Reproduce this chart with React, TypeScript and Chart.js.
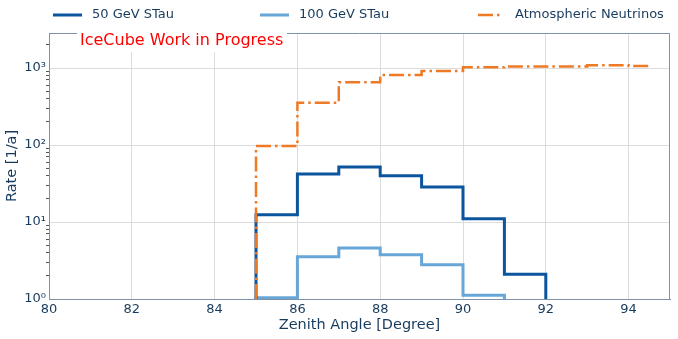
import React, { useEffect, useRef } from "react";
import { Chart, registerables } from "chart.js";

Chart.register(...registerables);

// ---- data ----
const binEdges = [85, 86, 87, 88, 89, 90, 91, 92, 93, 94, 94.5];
const stau50 = [12.4, 42, 52, 40, 28.5, 11, 2.1];
const stau100 = [1.04, 3.55, 4.6, 3.75, 2.78, 1.12];
const atmos = [97, 354, 655, 810, 915, 1020, 1050, 1050, 1090, 1060];
const xTicks = [80, 82, 84, 86, 88, 90, 92, 94];
const yMajor = [1, 10, 100, 1000];
const yMajorLabels = ["10\u2070", "10\u00b9", "10\u00b2", "10\u00b3"];
const seriesNames = ["50 GeV STau", "100 GeV STau", "Atmospheric Neutrinos"];
const annotation = "IceCube Work in Progress";

const X_MIN = 80;
const X_MAX = 95;
const Y_MIN = 1;
const Y_MAX = 2850;

const C50 = "#0b559f";
const C100 = "#67a6d6";
const CATM = "#ee7a26";
const TXT = "#173b5e";
const AXIS = "#7d93aa";
const GRID = "#dcdcdc";
const FONT = "'DejaVu Sans', sans-serif";
const DASHDOT = [15, 4, 2.5, 4];

function histPoints(values: number[], dropEnd: boolean) {
  const pts: { x: number; y: number }[] = [{ x: binEdges[0], y: Y_MIN }];
  values.forEach((v, i) => {
    pts.push({ x: binEdges[i], y: v });
    pts.push({ x: binEdges[i + 1], y: v });
  });
  if (dropEnd) pts.push({ x: binEdges[values.length], y: Y_MIN });
  return pts;
}

const decorPlugin = {
  id: "decor",
  afterDraw(chart: any) {
    const ctx = chart.ctx;
    const a = chart.chartArea;
    ctx.save();
    // frame top/right
    ctx.strokeStyle = AXIS;
    ctx.lineWidth = 1;
    ctx.beginPath();
    ctx.moveTo(a.left, a.top + 0.5);
    ctx.lineTo(a.right - 0.5, a.top + 0.5);
    ctx.lineTo(a.right - 0.5, a.bottom);
    ctx.stroke();

    // annotation box
    ctx.fillStyle = "#ffffff";
    ctx.fillRect(77, 28, 210, 24);
    ctx.fillStyle = "#ff0000";
    ctx.font = `16px ${FONT}`;
    ctx.textBaseline = "middle";
    ctx.textAlign = "left";
    ctx.fillText(annotation, 80, 41);

    // legend
    const entries = [
      { lx: 53, lw: 29, tx: 92, color: C50, dash: [] as number[], w: 3 },
      { lx: 260, lw: 29, tx: 299, color: C100, dash: [] as number[], w: 3 },
      { lx: 478, lw: 23.5, tx: 515, color: CATM, dash: DASHDOT, w: 2.5 },
    ];
    entries.forEach((e, i) => {
      ctx.strokeStyle = e.color;
      ctx.lineWidth = e.w;
      ctx.setLineDash(e.dash);
      ctx.beginPath();
      ctx.moveTo(e.lx, 15);
      ctx.lineTo(e.lx + e.lw, 15);
      ctx.stroke();
      ctx.setLineDash([]);
      ctx.fillStyle = TXT;
      ctx.font = `13px ${FONT}`;
      ctx.textBaseline = "middle";
      ctx.fillText(seriesNames[i], e.tx, 15);
    });
    ctx.restore();
  },
};

export default function App() {
  const ref = useRef<HTMLCanvasElement>(null);
  useEffect(() => {
    if (!ref.current) return;
    const chart = new Chart(ref.current, {
      type: "line",
      data: {
        datasets: [
          {
            label: seriesNames[2],
            data: histPoints(atmos, false),
            borderColor: CATM,
            borderWidth: 2.5,
            borderDash: DASHDOT,
            pointRadius: 0,
            fill: false,
            order: 0,
          },
          {
            label: seriesNames[0],
            data: histPoints(stau50, true),
            borderColor: C50,
            borderWidth: 3,
            pointRadius: 0,
            fill: false,
            order: 1,
          },
          {
            label: seriesNames[1],
            data: histPoints(stau100, true),
            borderColor: C100,
            borderWidth: 3,
            pointRadius: 0,
            fill: false,
            order: 2,
          },
        ],
      },
      options: {
        animation: false,
        responsive: true,
        maintainAspectRatio: false,
        layout: { padding: { top: 33, right: 8, left: 0, bottom: 0 } },
        plugins: {
          legend: { display: false },
          tooltip: { enabled: false },
        },
        scales: {
          x: {
            type: "linear",
            min: X_MIN,
            max: X_MAX,
            afterBuildTicks: (s: any) => {
              s.ticks = xTicks.map((v) => ({ value: v }));
            },
            afterFit: (s: any) => {
              s.height = 40;
            },
            grid: { color: GRID, drawTicks: false },
            border: { color: AXIS, width: 1 },
            ticks: {
              color: TXT,
              font: { family: FONT, size: 13 },
              padding: 3,
              maxRotation: 0,
              autoSkip: false,
              callback: (v: any) => String(v),
            },
            title: {
              display: true,
              text: "Zenith Angle [Degree]",
              color: TXT,
              font: { family: FONT, size: 14.5 },
              padding: { top: 0, bottom: 5 },
            },
          },
          y: {
            type: "logarithmic",
            min: Y_MIN,
            max: Y_MAX,
            afterBuildTicks: (s: any) => {
              const t: any[] = [];
              yMajor.forEach((m) => {
                for (let k = 1; k <= 9; k++) {
                  const v = m * k;
                  if (v <= Y_MAX) t.push({ value: v, major: k === 1 });
                }
              });
              s.ticks = t;
            },
            afterFit: (s: any) => {
              s.width = 49;
            },
            grid: {
              color: (c: any) =>
                c.tick && yMajor.includes(c.tick.value) ? GRID : "rgba(0,0,0,0)",
              tickColor: (c: any) =>
                c.tick && yMajor.includes(c.tick.value) ? "rgba(0,0,0,0)" : "#555",
              tickLength: 3,
              tickWidth: 1,
            },
            border: { color: AXIS, width: 1 },
            ticks: {
              color: TXT,
              font: { family: FONT, size: 13 },
              padding: 0,
              autoSkip: false,
              callback: (v: any) => {
                const i = yMajor.indexOf(Number(v));
                return i >= 0 ? yMajorLabels[i] : "";
              },
            },
            title: {
              display: true,
              text: "Rate [1/a]",
              color: TXT,
              font: { family: FONT, size: 14.5 },
              padding: { top: 4, bottom: 0 },
            },
          },
        },
      },
      plugins: [decorPlugin],
    } as any);
    return () => chart.destroy();
  }, []);
  return (
    <div style={{ position: "fixed", left: 0, top: 0, width: 678, height: 339, background: "#fff" }}>
      <canvas ref={ref} />
    </div>
  );
}
